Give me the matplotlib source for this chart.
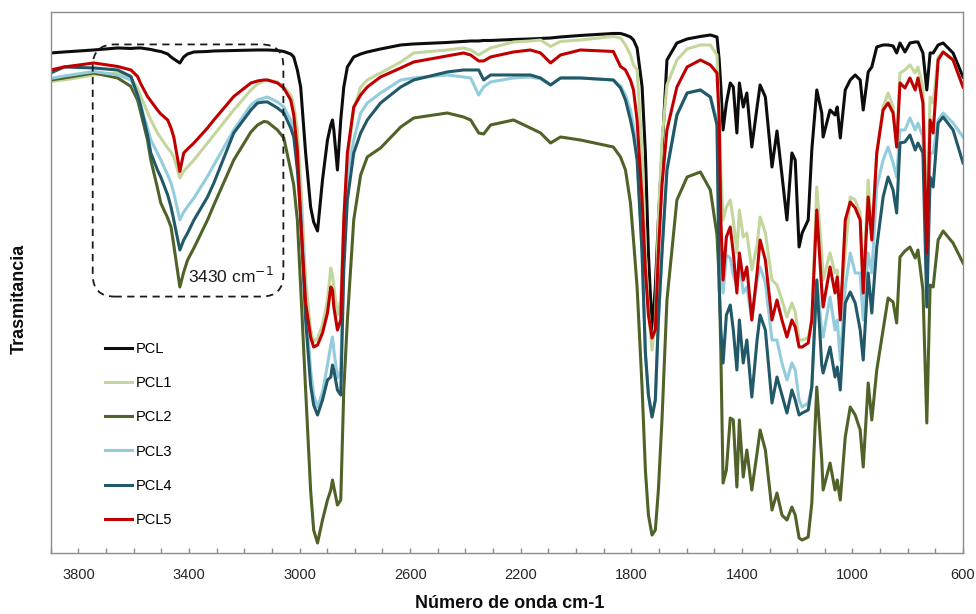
import numpy as np
import matplotlib
matplotlib.use("Agg")
import matplotlib.pyplot as plt
from matplotlib.patches import FancyBboxPatch
from matplotlib.ticker import FixedLocator, MultipleLocator

plt.rcParams['font.family'] = ['Liberation Sans', 'DejaVu Sans']

# Wavenumber grid (cm-1)
WN = [3900, 3852, 3744, 3658, 3610, 3586, 3574, 3550, 3538, 3514,
      3502, 3477, 3465, 3455, 3433, 3419, 3405, 3382, 3333, 3310,
      3238, 3176, 3152, 3129, 3116, 3080, 3057, 3032, 3021, 3008,
      2996, 2978, 2960, 2949, 2935, 2917, 2899, 2887, 2881, 2876,
      2863, 2851, 2840, 2827, 2804, 2779, 2755, 2707, 2634, 2587,
      2466, 2407, 2381, 2352, 2334, 2309, 2226, 2165, 2128, 2092,
      2056, 1984, 1865, 1839, 1821, 1803, 1792, 1779, 1761, 1749,
      1738, 1725, 1713, 1702, 1689, 1671, 1635, 1598, 1550, 1514,
      1490, 1482, 1476, 1468, 1456, 1442, 1431, 1418, 1409, 1395,
      1382, 1364, 1345, 1334, 1315, 1291, 1273, 1255, 1237, 1219,
      1207, 1193, 1182, 1160, 1147, 1129, 1111, 1106, 1081, 1063,
      1055, 1044, 1026, 1008, 990, 972, 961, 943, 930, 912,
      889, 871, 853, 840, 828, 810, 792, 773, 763, 745,
      731, 719, 708, 690, 672, 636, 600]

PCL = [100.0, 100.2, 100.6, 101.0, 100.9, 101.0, 101.0, 100.8, 100.7, 100.4,
       100.3, 99.8, 99.2, 98.8, 98.0, 99.2, 99.8, 100.2, 100.3, 100.4,
       100.5, 100.6, 100.6, 100.6, 100.6, 100.5, 100.3, 99.8, 99.2, 96.6,
       93.2, 80.0, 69.2, 66.2, 64.4, 74.6, 82.6, 85.6, 86.6, 84.6,
       76.6, 86.6, 93.2, 97.2, 99.2, 99.8, 100.2, 100.8, 101.6, 101.8,
       102.1, 102.3, 102.4, 102.4, 102.5, 102.5, 102.7, 102.8, 102.9, 103.0,
       103.2, 103.5, 103.9, 103.9, 103.6, 103.2, 102.6, 101.0, 93.3, 80.0,
       60.0, 44.6, 53.2, 66.6, 80.0, 98.6, 102.0, 102.8, 103.3, 103.6,
       103.2, 98.6, 93.2, 84.6, 90.0, 94.0, 93.2, 84.0, 94.0, 89.2,
       92.0, 81.2, 89.2, 93.6, 91.2, 77.2, 84.4, 75.6, 66.6, 80.0,
       78.6, 61.2, 64.0, 66.6, 80.6, 92.6, 88.0, 83.2, 88.6, 87.6,
       89.2, 83.0, 92.6, 94.6, 95.6, 94.6, 88.6, 96.2, 97.2, 101.2,
       101.6, 101.6, 101.4, 100.0, 102.0, 100.2, 102.0, 102.2, 102.2, 100.0,
       92.6, 100.0, 100.0, 101.6, 102.0, 100.0, 95.2]

PCL1 = [94.3, 94.6, 95.6, 96.0, 95.0, 93.0, 91.3, 88.2, 86.6, 84.0,
        83.0, 81.0, 80.2, 79.2, 75.0, 76.4, 77.2, 78.6, 82.0, 83.6,
        88.6, 92.6, 93.8, 94.4, 94.6, 94.2, 93.2, 91.6, 89.6, 84.6,
        74.6, 54.6, 44.6, 42.2, 43.0, 45.6, 50.6, 57.0, 55.6, 53.2,
        47.6, 50.6, 66.6, 78.6, 88.6, 93.2, 94.6, 96.0, 98.2, 100.0,
        100.6, 101.0, 100.6, 99.6, 100.2, 101.0, 102.2, 102.4, 102.6, 101.3,
        102.3, 102.6, 103.3, 103.0, 101.6, 99.6, 97.6, 96.6, 80.0, 60.0,
        48.6, 40.6, 46.6, 66.6, 82.6, 93.6, 98.6, 100.8, 101.6, 101.6,
        99.6, 88.6, 76.6, 66.6, 69.2, 70.6, 66.6, 60.0, 68.6, 63.2,
        64.0, 56.6, 61.6, 67.2, 64.0, 54.6, 53.6, 50.6, 47.2, 50.0,
        48.2, 42.6, 42.6, 43.0, 46.6, 73.2, 60.0, 54.6, 60.0, 56.0,
        56.6, 49.2, 60.0, 71.2, 70.6, 68.0, 53.2, 74.6, 63.2, 80.0,
        89.2, 92.0, 89.2, 81.2, 96.0, 96.6, 97.6, 96.0, 97.2, 93.2,
        66.6, 91.2, 90.0, 99.2, 100.2, 98.6, 93.2]

PCL2 = [94.6, 95.0, 96.0, 95.0, 93.3, 90.6, 88.0, 82.6, 78.6, 73.0,
        70.0, 67.0, 65.2, 61.6, 53.2, 56.2, 58.6, 61.0, 66.6, 69.6,
        78.6, 84.2, 85.6, 86.3, 86.2, 84.6, 83.0, 76.6, 73.6, 66.6,
        53.2, 32.6, 12.6, 4.6, 2.0, 6.6, 10.6, 12.6, 14.6, 13.2,
        9.6, 10.6, 32.6, 46.6, 66.6, 75.6, 79.2, 81.0, 85.2, 87.0,
        88.0, 87.2, 86.6, 84.0, 83.8, 85.6, 86.6, 85.0, 84.0, 82.0,
        83.2, 82.6, 81.2, 79.2, 76.6, 70.0, 62.6, 53.2, 33.2, 16.6,
        7.6, 3.6, 4.6, 12.6, 26.6, 50.6, 70.6, 75.2, 76.2, 72.6,
        63.6, 54.6, 40.0, 14.0, 16.6, 27.0, 26.6, 13.2, 26.6, 15.2,
        20.6, 12.6, 20.0, 24.6, 20.6, 8.6, 12.0, 7.6, 6.6, 9.2,
        7.6, 3.0, 2.6, 3.2, 10.0, 33.2, 18.6, 12.6, 18.0, 12.6,
        14.6, 10.6, 23.2, 29.2, 27.6, 24.6, 17.2, 34.0, 26.6, 36.6,
        44.6, 51.0, 50.2, 46.0, 59.2, 60.4, 61.2, 59.0, 60.6, 52.6,
        26.0, 53.6, 53.2, 62.6, 64.4, 62.0, 58.0]

PCL3 = [94.9, 95.4, 96.3, 95.6, 94.6, 91.6, 89.3, 85.0, 82.6, 80.0,
        78.6, 75.6, 74.0, 72.0, 66.6, 68.2, 69.3, 71.0, 75.3, 77.6,
        84.6, 89.6, 90.6, 91.0, 91.2, 90.2, 89.2, 86.6, 84.6, 78.6,
        70.6, 50.6, 36.6, 31.6, 29.2, 32.2, 37.6, 41.6, 43.2, 40.6,
        35.0, 36.6, 60.0, 75.6, 82.6, 88.0, 90.0, 92.0, 94.6, 95.0,
        95.6, 95.2, 95.0, 91.6, 93.2, 94.2, 95.0, 95.2, 94.8, 93.6,
        95.0, 95.0, 94.6, 93.4, 91.6, 88.6, 85.4, 80.0, 60.0, 40.0,
        31.6, 27.2, 30.6, 46.6, 60.0, 76.6, 87.6, 92.0, 92.6, 91.2,
        86.6, 66.6, 56.6, 52.0, 59.6, 59.0, 55.6, 53.2, 58.6, 52.0,
        53.2, 46.6, 54.6, 57.2, 54.0, 42.6, 42.6, 38.0, 34.6, 38.0,
        36.6, 30.6, 29.2, 30.0, 33.2, 54.6, 44.6, 43.2, 51.2, 44.6,
        46.6, 38.6, 53.2, 60.0, 56.0, 56.0, 46.6, 60.0, 56.0, 73.2,
        78.6, 81.2, 78.0, 75.2, 84.6, 84.6, 87.0, 84.6, 86.0, 83.2,
        56.6, 80.0, 80.0, 86.6, 88.0, 86.0, 83.2]

PCL4 = [96.0, 97.2, 97.0, 96.6, 95.3, 91.6, 89.3, 83.6, 80.0, 76.6,
        75.2, 71.6, 69.2, 66.6, 60.6, 62.6, 64.0, 66.6, 71.2, 74.0,
        84.0, 88.6, 90.0, 90.2, 90.2, 89.0, 88.0, 85.0, 83.2, 76.6,
        67.6, 46.6, 33.6, 29.6, 27.6, 30.6, 34.6, 35.2, 37.6, 36.6,
        32.6, 31.6, 56.6, 70.6, 80.0, 84.0, 86.6, 90.0, 93.2, 94.6,
        96.2, 96.6, 96.6, 96.6, 94.6, 95.6, 95.6, 95.6, 95.0, 93.6,
        95.0, 95.0, 94.6, 93.0, 90.6, 86.6, 83.6, 78.6, 60.0, 40.0,
        31.6, 27.2, 30.6, 46.6, 60.0, 76.6, 87.6, 92.0, 92.6, 91.2,
        85.6, 53.2, 44.6, 38.0, 47.6, 49.6, 44.6, 36.6, 46.6, 38.0,
        42.6, 31.2, 42.6, 47.6, 44.6, 30.0, 35.2, 31.6, 28.0, 32.6,
        30.6, 27.6, 28.0, 28.6, 33.2, 54.6, 37.6, 36.0, 41.2, 35.2,
        37.2, 32.6, 50.0, 52.2, 50.0, 44.6, 38.6, 56.0, 48.0, 61.2,
        71.2, 75.2, 72.6, 68.0, 82.0, 82.2, 83.6, 80.6, 82.0, 80.0,
        49.2, 75.2, 73.2, 86.0, 87.2, 84.6, 78.0]

PCL5 = [96.6, 97.2, 98.0, 97.3, 96.6, 95.3, 93.8, 91.3, 90.4, 88.6,
        87.8, 86.6, 85.0, 83.2, 76.3, 80.0, 80.8, 82.0, 85.0, 86.6,
        91.3, 94.0, 94.4, 94.6, 94.6, 94.0, 93.0, 90.6, 87.6, 80.6,
        66.6, 50.0, 43.2, 41.2, 41.6, 44.0, 48.0, 53.2, 52.6, 49.2,
        44.6, 46.6, 66.6, 80.0, 89.2, 91.6, 93.2, 95.2, 97.0, 98.2,
        99.4, 100.0, 99.6, 98.4, 98.4, 99.2, 100.2, 100.6, 100.0, 98.0,
        99.6, 100.6, 100.3, 97.3, 96.6, 94.6, 92.6, 86.6, 70.6, 56.6,
        47.6, 43.0, 44.6, 60.0, 73.6, 84.6, 93.2, 97.2, 98.6, 97.6,
        96.0, 86.6, 66.6, 54.6, 63.2, 65.2, 60.0, 52.0, 60.0, 54.6,
        57.2, 46.6, 56.0, 62.6, 58.6, 46.6, 50.6, 46.6, 43.2, 46.6,
        45.2, 41.2, 41.2, 42.0, 46.6, 68.6, 52.6, 49.2, 57.2, 52.0,
        55.2, 46.6, 66.6, 70.2, 69.0, 66.6, 52.0, 71.2, 62.6, 80.0,
        88.6, 90.0, 88.0, 81.2, 94.0, 93.0, 95.0, 92.6, 95.0, 90.0,
        60.0, 86.6, 84.0, 98.6, 100.2, 98.6, 93.2]

SERIES = ["PCL", "PCL1", "PCL2", "PCL3", "PCL4", "PCL5"]
VALUES = [PCL, PCL1, PCL2, PCL3, PCL4, PCL5]
COLORS = ["#0d0d0d", "#c3d69b", "#4f6228", "#93cddd", "#215968", "#c00000"]
XTICKS = [3800, 3400, 3000, 2600, 2200, 1800, 1400, 1000, 600]
ANNOT = "3430 cm$^{-1}$"

fig = plt.figure(figsize=(9.76, 6.14), dpi=100)
ax = fig.add_axes([0.052, 0.0993, 0.9347, 0.8812])

for name, vals, col in zip(SERIES, VALUES, COLORS):
    ax.plot(WN, vals, color=col, lw=2.2, label=name, solid_joinstyle='round')

ax.set_xlim(3900, 600)
ax.set_ylim(0, 108.2)

ax.xaxis.set_major_locator(FixedLocator(XTICKS))
ax.xaxis.set_minor_locator(MultipleLocator(100))
ax.tick_params(axis='x', which='both', direction='in', length=3.5, width=1,
               color='#8c8c8c', labelsize=10.5, pad=11, labelcolor='#262626')
ax.set_yticks([])
for s in ax.spines.values():
    s.set_color('#8c8c8c')
    s.set_linewidth(1.0)

# dashed rounded box around the 3430 cm-1 band (axes fraction)
box = FancyBboxPatch((0.046, 0.474), 0.209, 0.466,
                     boxstyle="round,pad=0,rounding_size=0.024",
                     mutation_aspect=912.3 / 541.0,
                     transform=ax.transAxes, fill=False, ec='#1a1a1a',
                     lw=1.3, ls=(0, (4, 3)), zorder=5)
ax.add_patch(box)
ax.text(0.197, 0.512, ANNOT, transform=ax.transAxes, fontsize=12.5,
        ha='center', va='center', color='#1a1a1a')

leg = ax.legend(loc='center left', bbox_to_anchor=(0.0595, 0.219), frameon=False,
                fontsize=10.5, handlelength=1.85, handletextpad=0.25,
                labelspacing=1.38, borderpad=0, borderaxespad=0)

fig.text(510 / 976, 1 - 604 / 614, "Número de onda cm-1", ha='center', va='center',
         fontsize=13, fontweight='bold', color='#0d0d0d')
fig.text(19 / 976, 1 - 299 / 614, "Trasmitancia", ha='center', va='center',
         rotation=90, fontsize=13, fontweight='bold', color='#0d0d0d')

fig.savefig("out.png", dpi=100)
